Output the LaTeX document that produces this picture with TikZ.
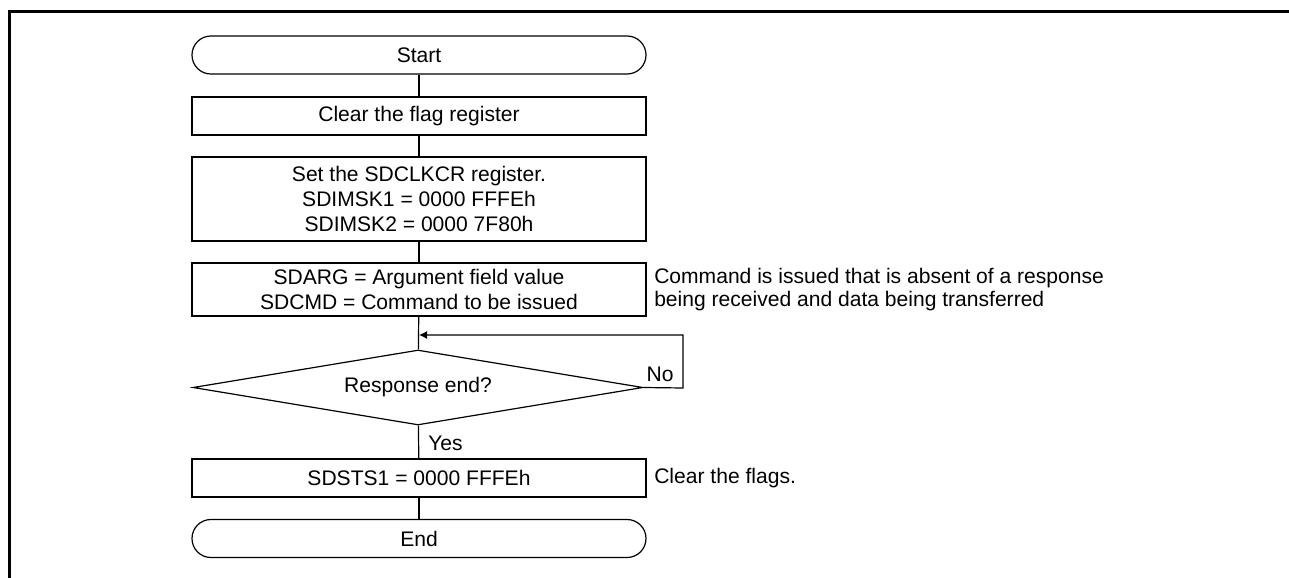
\documentclass[tikz,border=0pt]{standalone}
\usepackage{fontspec}
\setmainfont{Liberation Sans}
\usetikzlibrary{shapes.geometric,arrows.meta}
\newcommand\flowfont{\fontsize{15.8pt}{18.8pt}\selectfont}
\newcommand\notefont{\fontsize{15.8pt}{17pt}\selectfont}
\tikzset{
  flowline/.style={
    line width=0.9pt,
    draw=black
  },
  terminal/.style={
    draw,
    line width=0.9pt,
    rounded corners=14.2pt,
    minimum width=340.5pt,
    minimum height=28.5pt,
    inner sep=0pt,
    font=\flowfont
  },
  procbox/.style={
    draw,
    line width=0.9pt,
    minimum width=340.5pt,
    inner sep=0pt,
    align=center,
    font=\flowfont
  },
  decision/.style={
    diamond,
    draw,
    line width=0.9pt,
    shape aspect=6,
    minimum width=337.5pt,
    minimum height=56.25pt,
    inner sep=0pt,
    font=\flowfont
  },
  notetext/.style={
    anchor=west,
    align=left,
    inner sep=0pt,
    font=\notefont
  },
  flowtext/.style={
    inner sep=0pt,
    font=\flowfont
  }
}

\begin{document}
\begin{tikzpicture}[x=0.75pt,y=-0.75pt]

\useasboundingbox (0,0) rectangle (1289,578);

% Frame
\draw[line width=2.25pt] (9.5,578) -- (9.5,11.5) -- (1289,11.5);

% Flow nodes
\node[terminal] (start) at (419,55) {Start};
\node[procbox, minimum height=28.5pt] (clrflag) at (419,116) {Clear the flag register};
\node[procbox, minimum height=63pt] (setclk) at (419,199)
  {Set the SDCLKCR register.\\SDIMSK1 = 0000 FFFEh\\SDIMSK2 = 0000 7F80h};
\node[procbox, minimum height=39.75pt] (setcmd) at (419,289.5)
  {SDARG = Argument field value\\SDCMD = Command to be issued};
\node[decision] (resp) at (418,387.5) {Response end?};
\node[procbox, minimum height=28.5pt] (clrsts) at (419,478) {SDSTS1 = 0000 FFFEh};
\node[terminal] (end) at (419,538.5) {End};

% Notes
\node[notetext] (cmdnote) at (654,289.5)
  {Command is issued that is absent of a response\\being received and data being transferred};
\node[notetext] (flagnote) at (654,478) {Clear the flags.};

% Connectors
\coordinate (join) at (419,335);
\coordinate (loopr) at (683,388);
\draw[flowline] (start) -- (clrflag);
\draw[flowline] (clrflag) -- (setclk);
\draw[flowline] (setclk) -- (setcmd);
\draw[flowline] (setcmd) -- (resp);
\draw[flowline, -{Latex[length=6pt,width=6pt]}] (resp.east) -- (loopr) |- (join);
\draw[flowline] (resp) -- (clrsts);
\draw[flowline] (clrsts) -- (end);

% Branch labels
\node[flowtext] (nolbl) at (660,374) {No};
\node[flowtext, anchor=west] (yeslbl) at (428,443) {Yes};

\end{tikzpicture}
\end{document}
